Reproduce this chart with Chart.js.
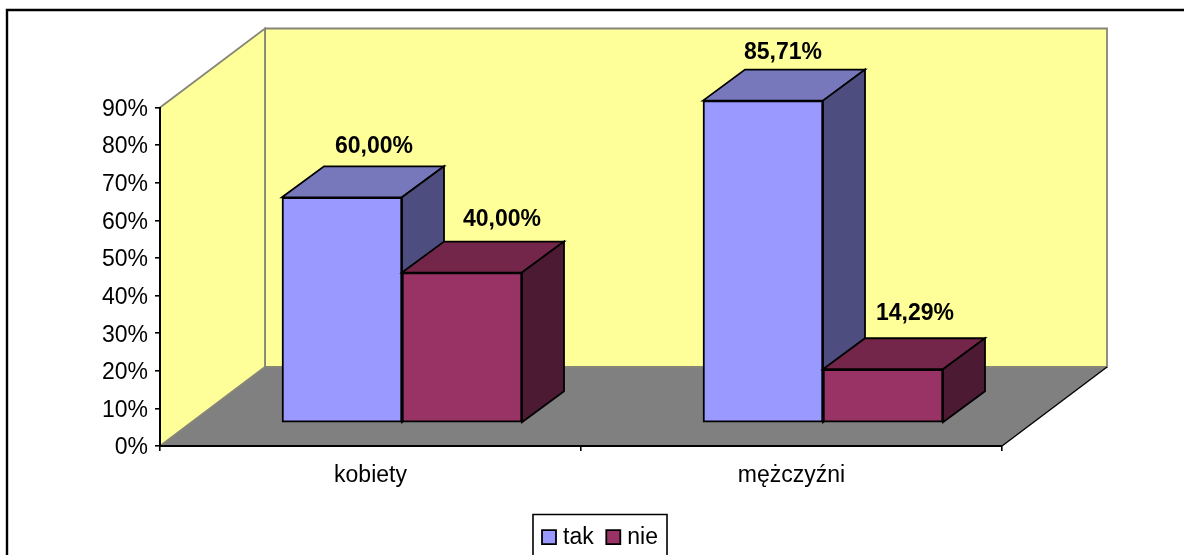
<!DOCTYPE html>
<html><head><meta charset="utf-8">
<style>html,body{margin:0;padding:0;background:#fff;overflow:hidden}canvas{display:block}</style>
<script src="https://cdn.jsdelivr.net/npm/chart.js@4"></script>
</head><body>
<div style="width:1184px;height:555px"><canvas id="c" width="1184" height="555"></canvas></div>
<script>
const categories = ['kobiety', 'mężczyźni'];
const tak = [60.00, 85.71];
const nie = [40.00, 14.29];
const tickMax = 90;

const FONT = '"Liberation Sans", Arial, sans-serif';
const FS = 23;
const wallDepth = {x: 105, y: -79};
const barDepth = {x: 42, y: -31};
const barShift = {x: 31.5, y: -23};
const faces = [
  {top: '#7777BB', side: '#4D4D80'},
  {top: '#732649', side: '#4D1A33'}
];
const labelNudges = [
  [{x: 32, y: -44}, {x: 20, y: -42}],
  [{x: 40, y: -47}, {x: 32, y: -49}]
];
const legendBox = {left: 533, right: 667, top: 514.5, padding: 12.6, swatch: 14};
function fmt(v){ return v.toFixed(2).replace('.', ',') + '%'; }
function poly(ctx, pts, fill, stroke, lw){
  ctx.beginPath();
  pts.forEach((p,i)=> i ? ctx.lineTo(p[0],p[1]) : ctx.moveTo(p[0],p[1]));
  ctx.closePath();
  if(fill){ ctx.fillStyle = fill; ctx.fill(); }
  if(stroke){ ctx.strokeStyle = stroke; ctx.lineWidth = lw; ctx.lineJoin='miter'; ctx.stroke(); }
}
const scene = {
  id: 'scene',
  afterLayout(chart){
    const l = chart.legend;
    const h = l.bottom - l.top;
    l.left = legendBox.left - 10; l.right = legendBox.right + 10;
    l.top = legendBox.top - 0.5;
    l.bottom = l.top + h;
    l.adjustHitBoxes();
  },
  beforeDraw(chart){
    const {ctx, chartArea:a} = chart;
    const d = wallDepth;
    ctx.save();
    ctx.fillStyle = '#fff'; ctx.fillRect(0,0,chart.width,chart.height);
    ctx.strokeStyle = '#000'; ctx.lineWidth = 2.4;
    ctx.beginPath(); ctx.moveTo(7,555); ctx.lineTo(7,10); ctx.lineTo(1184,10); ctx.stroke();
    const G = '#858578';
    poly(ctx, [[a.left+d.x,a.top+d.y],[a.right+d.x,a.top+d.y],[a.right+d.x,a.bottom+d.y],[a.left+d.x,a.bottom+d.y]], '#FFFF99', G, 1.8);
    poly(ctx, [[a.left,a.top],[a.left+d.x,a.top+d.y],[a.left+d.x,a.bottom+d.y],[a.left,a.bottom]], '#FFFF99', null);
    ctx.strokeStyle = G; ctx.lineWidth = 1.8;
    ctx.beginPath(); ctx.moveTo(a.left,a.top); ctx.lineTo(a.left+d.x,a.top+d.y); ctx.lineTo(a.left+d.x,a.bottom+d.y); ctx.stroke();
    poly(ctx, [[a.left,a.bottom],[a.right,a.bottom],[a.right+d.x,a.bottom+d.y],[a.left+d.x,a.bottom+d.y]], '#808080', null);
    ctx.beginPath(); ctx.moveTo(a.left,a.bottom); ctx.lineTo(a.left+d.x,a.bottom+d.y); ctx.lineTo(a.right+d.x,a.bottom+d.y); ctx.stroke();
    ctx.strokeStyle = '#000'; ctx.lineWidth = 1.4;
    ctx.beginPath(); ctx.moveTo(a.right,a.bottom); ctx.lineTo(a.right+d.x,a.bottom+d.y); ctx.stroke();
    ctx.restore();
  },
  // Bars are painted below, left series first, so that the right one overlaps it.
  beforeDatasetDraw(){ return false; },
  afterDatasetsDraw(chart){
    const {ctx} = chart;
    const d = barDepth;
    chart.data.datasets.forEach((ds,i)=>{
      const meta = chart.getDatasetMeta(i);
      const f = faces[i];
      ctx.save();
      ctx.translate(barShift.x, barShift.y);
      meta.data.forEach(el=>{
        const p = el.getProps(['x','y','base','width'], true);
        const L = p.x - p.width/2, R = p.x + p.width/2;
        poly(ctx, [[L,p.y],[L+d.x,p.y+d.y],[R+d.x,p.y+d.y],[R,p.y]], f.top, '#000', 1.8);
        poly(ctx, [[R,p.y],[R+d.x,p.y+d.y],[R+d.x,p.base+d.y],[R,p.base]], f.side, '#000', 1.8);
      });
      meta.controller.draw();
      ctx.restore();
    });
    ctx.save();
    ctx.fillStyle = '#000';
    ctx.font = 'bold ' + FS + 'px ' + FONT;
    ctx.textAlign = 'center'; ctx.textBaseline = 'alphabetic';
    chart.data.datasets.forEach((ds,i)=>{
      chart.getDatasetMeta(i).data.forEach((el,j)=>{
        const p = el.getProps(['x','y'], true);
        const n = labelNudges[i][j];
        ctx.fillText(fmt(ds.data[j]), p.x + barShift.x + n.x, p.y + barShift.y + n.y);
      });
    });
    ctx.restore();
  },
  afterDraw(chart){
    const {ctx, legend:l} = chart;
    ctx.save();
    ctx.strokeStyle = '#000'; ctx.lineWidth = 1.6;
    ctx.beginPath();
    ctx.moveTo(legendBox.left, 555); ctx.lineTo(legendBox.left, legendBox.top); ctx.lineTo(legendBox.right, legendBox.top); ctx.lineTo(legendBox.right, 555);
    ctx.stroke();
    const cy = l.top + legendBox.padding + FS/2 - 1;
    l.legendHitBoxes.forEach((hit,i)=>{
      ctx.fillStyle = chart.data.datasets[i].backgroundColor;
      ctx.strokeStyle = '#000'; ctx.lineWidth = 1.8;
      ctx.beginPath(); ctx.rect(hit.left, cy - legendBox.swatch/2, legendBox.swatch, legendBox.swatch);
      ctx.fill(); ctx.stroke();
    });
    ctx.restore();
  }
};
new Chart(document.getElementById('c'), {
  type: 'bar',
  data: {
    labels: categories,
    datasets: [
      {label: 'tak', data: tak, backgroundColor: '#9999FF', borderColor: '#000', borderWidth: 2, borderSkipped: false, barThickness: 120},
      {label: 'nie', data: nie, backgroundColor: '#993366', borderColor: '#000', borderWidth: 2, borderSkipped: false, barThickness: 120}
    ]
  },
  options: {
    responsive: false,
    animation: false,
    events: [],
    layout: {padding: {left: 0, right: 182, top: 107.5, bottom: 0}},
    scales: {
      x: {
        border: {display: true, color: '#000', width: 2},
        grid: {display: true, drawOnChartArea: false, color: '#000', tickLength: 5, lineWidth: 1.6, offset: true},
        ticks: {color: '#000', font: {family: FONT, size: FS}, padding: 11, maxRotation: 0},
        afterFit(s){ s.height = 109 - s.chart.legend.height; }
      },
      y: {
        min: 0, max: tickMax,
        border: {display: true, color: '#000', width: 2},
        grid: {display: true, drawOnChartArea: false, color: '#000', tickLength: 5, lineWidth: 1.6},
        ticks: {color: '#000', font: {family: FONT, size: FS}, padding: 7, labelOffset: 2, stepSize: 10, callback: v => v + '%'},
        afterFit(s){ s.width = 160; }
      }
    },
    plugins: {
      legend: {
        display: true, position: 'bottom',
        labels: {color: '#000', font: {family: FONT, size: FS}, boxWidth: 9.5, boxHeight: 14, padding: legendBox.padding,
          generateLabels(chart){
            return chart.data.datasets.map((ds,i)=>({text: ds.label, fillStyle: 'rgba(0,0,0,0)', strokeStyle: 'rgba(0,0,0,0)', lineWidth: 0, datasetIndex: i, fontColor: '#000'}));
          }}
      },
      tooltip: {enabled: false},
      title: {display: false}
    }
  },
  plugins: [scene]
});
</script>
</body></html>
